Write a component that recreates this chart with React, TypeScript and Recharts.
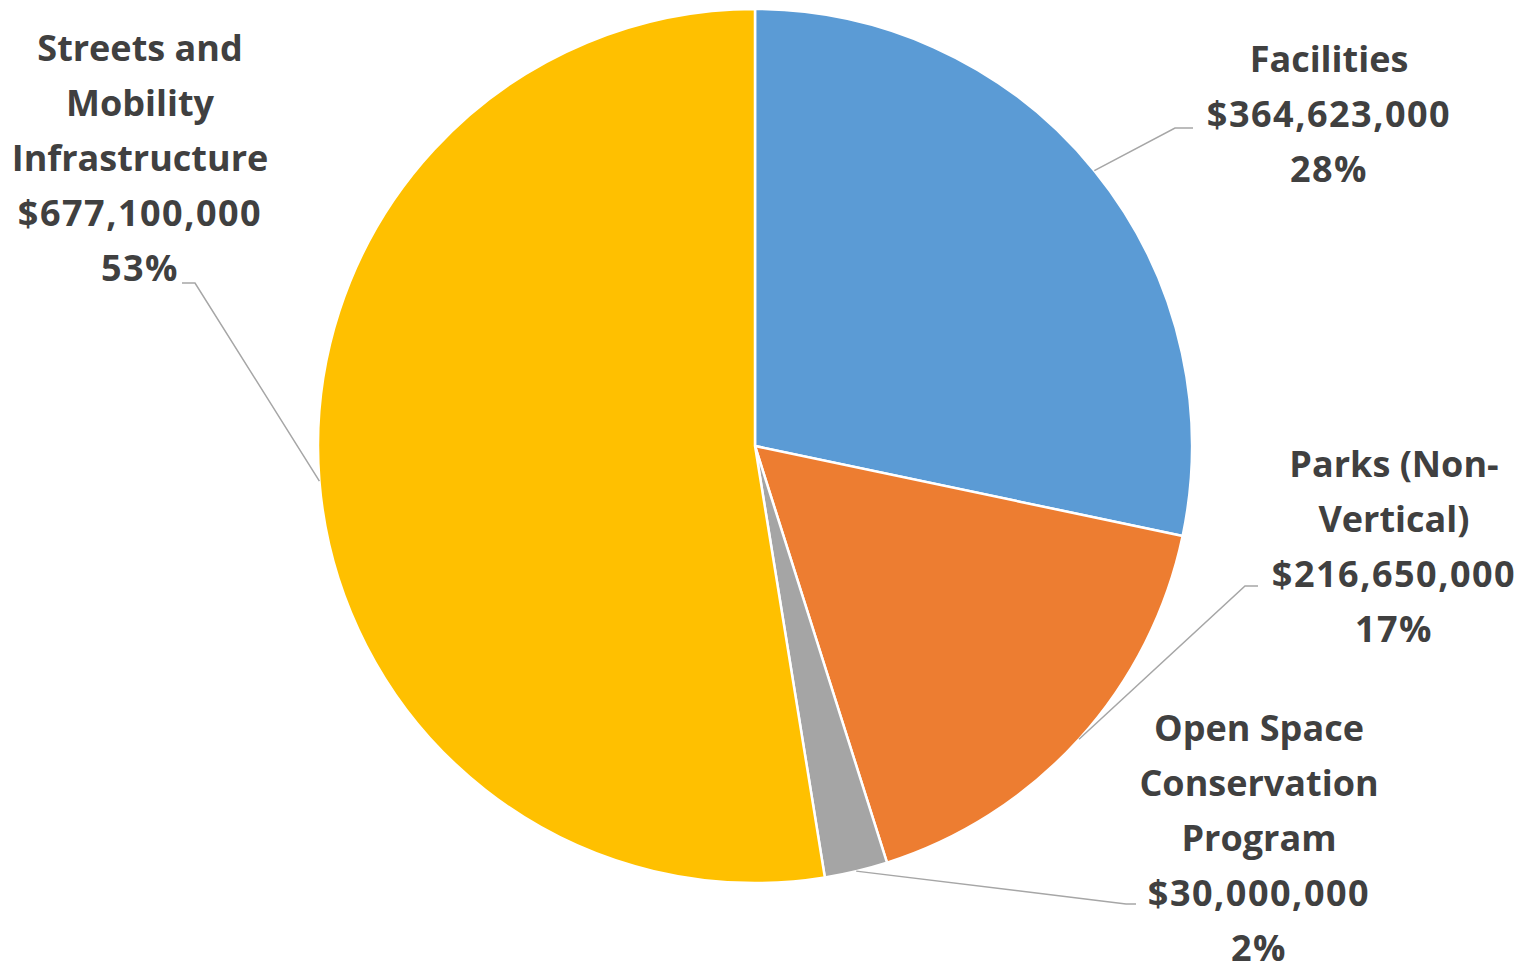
import React from 'react';
import { PieChart, Pie, Cell } from 'recharts';

// chart data
const categories = ['Facilities', 'Parks (Non-Vertical)', 'Open Space Conservation Program', 'Streets and Mobility Infrastructure'];
const amounts = [364623000, 216650000, 30000000, 677100000];
const labelNameLines = [
  ['Facilities'],
  ['Parks (Non-', 'Vertical)'],
  ['Open Space', 'Conservation', 'Program'],
  ['Streets and', 'Mobility', 'Infrastructure'],
];
const sliceColors = ['#5B9BD5', '#ED7D31', '#A5A5A5', '#FFC000'];

// where each label block sits and how its leader line bends
const labelLayout = [
  { x: 1329, y: 58, elbow: [1175, 128], end: [1193, 128] },
  { x: 1394, y: 463, elbow: [1245, 586], end: [1258, 586] },
  { x: 1259, y: 727, elbow: [1126, 904], end: [1136, 904] },
  { x: 140, y: 47, elbow: [195, 283], end: [182, 283] },
];

const LINE_H = 55;
const RAD = Math.PI / 180;

const data = categories.map((name, i) => ({ name, value: amounts[i] }));

const renderLabel = (props: any) => {
  const { cx, cy, midAngle, outerRadius, index, value, percent } = props;
  const layout = labelLayout[index];
  const ax = cx + outerRadius * Math.cos(-midAngle * RAD);
  const ay = cy + outerRadius * Math.sin(-midAngle * RAD);
  const nameLines = labelNameLines[index];
  const numLines = [
    '$' + Number(value).toLocaleString('en-US'),
    Math.round((percent || 0) * 100) + '%',
  ];
  return (
    <g key={`lbl-${index}`}>
      <polyline
        points={`${ax},${ay} ${layout.elbow[0]},${layout.elbow[1]} ${layout.end[0]},${layout.end[1]}`}
        fill="none"
        stroke="#A6A6A6"
        strokeWidth={1.5}
      />
      <text
        x={layout.x}
        y={layout.y}
        textAnchor="middle"
        fill="#404040"
        fontFamily="'Open Sans', Lato, sans-serif"
        fontWeight="bold"
        fontSize={36}
      >
        {nameLines.map((line, i) => (
          <tspan key={`n${i}`} x={layout.x} y={layout.y + i * LINE_H} dominantBaseline="central">
            {line}
          </tspan>
        ))}
        {numLines.map((line, i) => (
          <tspan
            key={`v${i}`}
            x={layout.x}
            y={layout.y + (nameLines.length + i) * LINE_H}
            dominantBaseline="central"
            letterSpacing={1.5}
          >
            {line}
          </tspan>
        ))}
      </text>
    </g>
  );
};

const App: React.FC = () => {
  return (
    <div style={{ position: 'absolute', left: 0, top: 0, width: 1536, height: 963, background: '#fff' }}>
      <PieChart width={1536} height={963} margin={{ top: 0, right: 0, bottom: 0, left: 0 }}>
        <Pie
          data={data}
          dataKey="value"
          nameKey="name"
          cx={755}
          cy={446}
          outerRadius={437}
          startAngle={90}
          endAngle={-270}
          stroke="#FFFFFF"
          strokeWidth={2.5}
          label={renderLabel}
          labelLine={false}
          isAnimationActive={false}
        >
          {data.map((entry, index) => (
            <Cell key={`cell-${index}`} fill={sliceColors[index]} />
          ))}
        </Pie>
      </PieChart>
    </div>
  );
};

export default App;
